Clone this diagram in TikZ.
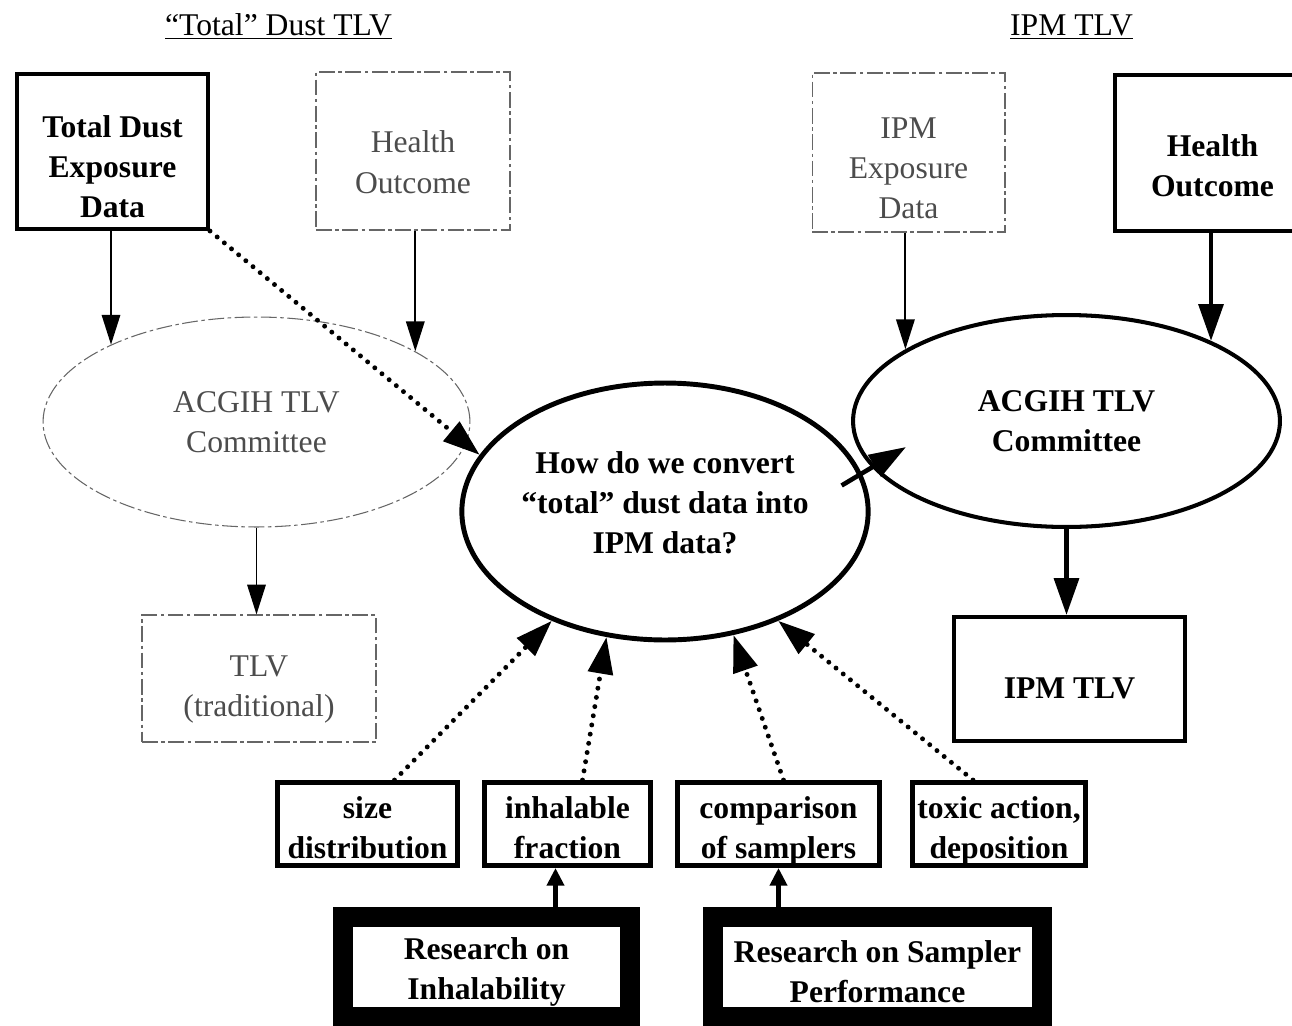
\documentclass[tikz,border=0pt]{standalone}
\usepackage{fontspec}
\setmainfont{Liberation Serif}
\usepackage{tikz}
\usetikzlibrary{shapes, arrows.meta, calc}
\newcommand{\dsize}{\fontsize{18pt}{22.8pt}\selectfont}
\tikzset{
  boxnode/.style={draw, line width=2.3pt, align=center, inner sep=0pt, font=\dsize\bfseries},
  greynode/.style={draw=black!60, text=black!70, line width=0.6pt, dash pattern=on 9pt off 2pt on 2pt off 2pt, align=center, inner sep=0pt, font=\dsize},
  factnode/.style={boxnode, line width=2.8pt, minimum height=1.66cm},
  resnode/.style={boxnode, line width=11.3pt, minimum height=2cm},
  qnode/.style={ellipse, boxnode},
  lowtext/.style={execute at begin node={\rule{0pt}{#1}}},
  hightext/.style={execute at begin node={\rule[-#1]{0pt}{#1}}},
  headtext/.style={font=\dsize, anchor=base},
  tarrow/.style={-{Triangle[length=17pt, width=10.5pt]}, line width=1.1pt},
  barrow/.style={-{Triangle[length=21pt, width=14pt]}, line width=2.6pt},
  uarrow/.style={-{Triangle[length=10pt, width=9.5pt]}, line width=2.8pt},
  darrow/.style={-{Triangle[length=21pt, width=14pt]}, line width=2.8pt, line cap=round, dash pattern=on 0pt off 5.3pt},
}
\begin{document}
\begin{tikzpicture}[x=0.02cm, y=-0.02cm]
  \useasboundingbox (0,0) rectangle (1292,1025);
  % headings
  \node[headtext] (hdtot) at (278.5,35) {\underline{“Total” Dust TLV}};
  \node[headtext] (hdipm) at (1071.5,35) {\underline{IPM TLV}};
  % "total" dust side
  \node[boxnode, lowtext=75pt, minimum width=3.82cm, minimum height=3.1cm] (tde) at (112.5,151.5) {Total Dust\\Exposure\\Data};
  \node[greynode, lowtext=48pt, minimum width=3.88cm, minimum height=3.16cm] (hol) at (413,151) {Health\\Outcome};
  \node[ellipse, greynode, minimum width=8.54cm, minimum height=4.2cm] (acl) at (256.5,422) {ACGIH TLV\\Committee};
  \node[greynode, lowtext=47pt, minimum width=4.68cm, minimum height=2.54cm] (tlvt) at (259,678.5) {TLV\\(traditional)};
  \draw[tarrow] (tde.south -| acl.152) -- (acl.152);
  \draw[tarrow] (hol.south -| acl.24) -- (acl.24);
  \draw[tarrow] (acl.south) -- (acl.south |- tlvt.north);
  % IPM side
  \node[greynode, lowtext=75pt, minimum width=3.86cm, minimum height=3.18cm] (ipe) at (908.5,152.5) {IPM\\Exposure\\Data};
  \node[boxnode, lowtext=50pt, minimum width=3.9cm, minimum height=3.12cm] (hor) at (1212.5,153) {Health\\Outcome};
  \node[qnode, minimum width=8.54cm, minimum height=4.24cm] (acr) at (1066.5,421) {ACGIH TLV\\Committee};
  \node[boxnode, lowtext=22.5pt, minimum width=4.62cm, minimum height=2.48cm] (ipmt) at (1069.5,679) {IPM TLV};
  \draw[tarrow] (ipe.south -| acr.156) -- (acr.156);
  \draw[barrow] (hor.south -| acr.29) -- (acr.29);
  \draw[barrow] (acr.south) -- (acr.south |- ipmt.north);
  % the question
  \node[qnode, hightext=10pt, line width=2.8pt, minimum width=7.68cm, minimum height=5.14cm] (conv) at (665,511.5) {How do we convert\\“total” dust data into\\IPM data?};
  \draw[barrow] ($(conv.east)+(-29,-26)$) -- ($(acr.west)+(55,26)$);
  \draw[darrow] (tde.south east) -- (conv.163);
  % what is needed
  \node[factnode, lowtext=40pt, minimum width=3.6cm] (sdist) at (367.5,824) {size\\distribution};
  \node[factnode, lowtext=40pt, minimum width=3.32cm] (infr) at (567.5,824) {inhalable\\fraction};
  \node[factnode, lowtext=43pt, minimum width=4.04cm] (cmp) at (778.5,824) {comparison\\of samplers};
  \node[factnode, lowtext=43pt, minimum width=3.46cm] (tox) at (999,824) {toxic action,\\deposition};
  \draw[darrow] ($(sdist.north)+(27,0)$) -- (conv.224);
  \draw[darrow] ($(infr.north)+(15,0)$) -- (conv.245);
  \draw[darrow] ($(cmp.north)+(5,0)$) -- (conv.299);
  \draw[darrow] ($(tox.north)+(-26,0)$) -- (conv.316);
  % research
  \node[resnode, lowtext=41pt, minimum width=5.74cm] (rinh) at (486.5,967) {Research on\\Inhalability};
  \node[resnode, lowtext=41pt, minimum width=6.58cm] (rsmp) at (877.5,967) {Research on Sampler\\Performance};
  \coordinate (infrin) at ($(infr.south)+(-12,0)$);
  \draw[uarrow] (infrin |- rinh.north) -- (infrin);
  \draw[uarrow] (cmp.south |- rsmp.north) -- (cmp.south);
\end{tikzpicture}
\end{document}
